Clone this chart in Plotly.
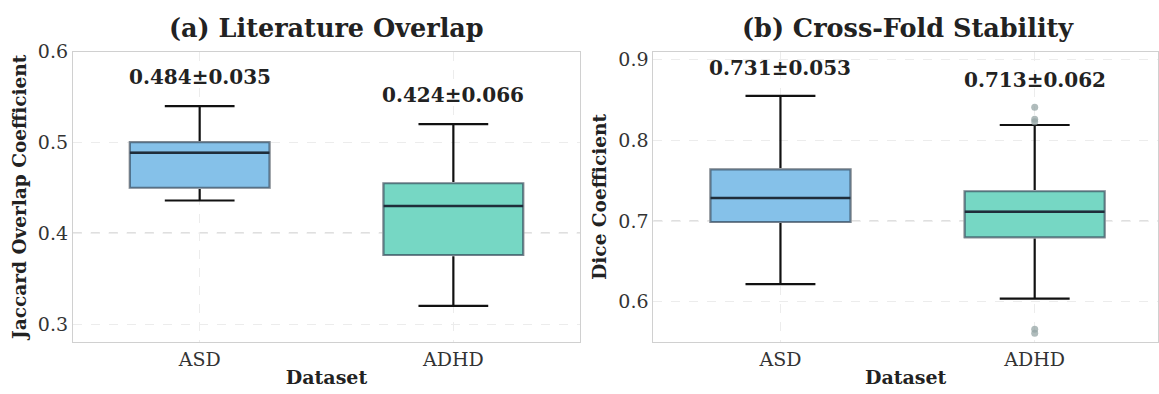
import plotly.graph_objects as go

# ---------------- data ----------------
categories = ["ASD", "ADHD"]

# (a) Literature Overlap – Jaccard
jac_lower = [0.436, 0.320]
jac_q1 = [0.450, 0.376]
jac_median = [0.4885, 0.430]
jac_q3 = [0.500, 0.455]
jac_upper = [0.540, 0.520]
jac_mean = [0.484, 0.424]
jac_std = [0.035, 0.066]
jac_outliers = [[], []]

# (b) Cross-Fold Stability – Dice
dice_lower = [0.622, 0.604]
dice_q1 = [0.699, 0.680]
dice_median = [0.7285, 0.7115]
dice_q3 = [0.764, 0.737]
dice_upper = [0.855, 0.819]
dice_mean = [0.731, 0.713]
dice_std = [0.053, 0.062]
dice_outliers = [[], [0.841, 0.826, 0.823, 0.566, 0.561]]

ref_lines = [0.4, 0.7]

# ---------------- style ----------------
FONT = "Georgia, 'DejaVu Serif', serif"
fill_colors = ["rgba(52,152,219,0.6)", "rgba(26,188,156,0.6)"]
edge_color = "rgba(44,62,80,0.65)"
median_color = "#1f2d3a"
whisker_color = "#111111"
box_w = 0.55

fig = go.Figure()


def add_panel(xa, ya, lower, q1, med, q3, upper, outliers, mean, std):
    for i, cat in enumerate(categories):
        common = dict(x=[cat], xaxis=xa, yaxis=ya, width=box_w, showlegend=False,
                      hoverinfo="skip", boxpoints=False)
        # whiskers + caps (black)
        fig.add_trace(go.Box(q1=[q1[i]], median=[med[i]], q3=[q3[i]],
                             lowerfence=[lower[i]], upperfence=[upper[i]],
                             fillcolor="rgba(0,0,0,0)", whiskerwidth=0.5,
                             line=dict(color=whisker_color, width=2.2), **common))
        # white underlay so whisker outline does not show through
        fig.add_trace(go.Box(q1=[q1[i]], median=[med[i]], q3=[q3[i]],
                             lowerfence=[q1[i]], upperfence=[q3[i]],
                             fillcolor="white", whiskerwidth=0,
                             line=dict(color="white", width=2.4), **common))
        # coloured box with translucent edge
        fig.add_trace(go.Box(q1=[q1[i]], median=[med[i]], q3=[q3[i]],
                             lowerfence=[q1[i]], upperfence=[q3[i]],
                             fillcolor=fill_colors[i], whiskerwidth=0,
                             line=dict(color=edge_color, width=2), **common))
        # median line
        fig.add_trace(go.Box(q1=[med[i]], median=[med[i]], q3=[med[i]],
                             lowerfence=[med[i]], upperfence=[med[i]],
                             fillcolor="rgba(0,0,0,0)", whiskerwidth=0,
                             line=dict(color=median_color, width=2.5), **common))
        if outliers[i]:
            fig.add_trace(go.Scatter(x=[cat] * len(outliers[i]), y=outliers[i],
                                     xaxis=xa, yaxis=ya, mode="markers",
                                     marker=dict(color="rgba(149,165,166,0.75)", size=7),
                                     showlegend=False, hoverinfo="skip"))
        top = max([upper[i]] + outliers[i])
        fig.add_annotation(x=cat, y=top + 0.017, xref=xa, yref=ya,
                           text=f"<b>{mean[i]:.3f}±{std[i]:.3f}</b>",
                           showarrow=False, xanchor="center", yanchor="bottom",
                           font=dict(family=FONT, size=20, color="#222222"))


add_panel("x", "y", jac_lower, jac_q1, jac_median, jac_q3, jac_upper,
          jac_outliers, jac_mean, jac_std)
add_panel("x2", "y2", dice_lower, dice_q1, dice_median, dice_q3, dice_upper,
          dice_outliers, dice_mean, dice_std)

# reference dashed lines
for xr, yr, v in [("x domain", "y", ref_lines[0]), ("x2 domain", "y2", ref_lines[1])]:
    fig.add_shape(type="line", xref=xr, yref=yr, x0=0, x1=1, y0=v, y1=v,
                  line=dict(color="rgba(150,150,150,0.6)", width=1.2, dash="dash"),
                  layer="below")

W, H = 1159, 394
ydom = [1 - 340.7 / H, 1 - 41.7 / H]

axis_common = dict(showline=True, mirror=True, linecolor="#d0d0d0", linewidth=1,
                   showgrid=True, gridcolor="#ececec", griddash="dash", gridwidth=1,
                   zeroline=False, ticks="", color="#333333",
                   tickfont=dict(family=FONT, size=19, color="#333333"))

fig.update_layout(
    width=W, height=H, margin=dict(l=0, r=0, t=0, b=0),
    paper_bgcolor="white", plot_bgcolor="white", boxmode="overlay",
    font=dict(family=FONT, color="#222222"),
    xaxis=dict(domain=[72.9 / W, 580.7 / W], anchor="y", type="category",
               categoryorder="array", categoryarray=categories, range=[-0.5, 1.5],
               title=dict(text="<b>Dataset</b>", font=dict(family=FONT, size=19, color="#222222"),
                          standoff=1),
               **axis_common),
    yaxis=dict(domain=ydom, anchor="x", range=[0.28, 0.6], tickvals=[0.3, 0.4, 0.5, 0.6],
               ticktext=["0.3", "0.4", "0.5", "0.6"],
               title=dict(text="<b>Jaccard Overlap Coefficient</b>",
                          font=dict(family=FONT, size=18.5, color="#222222"), standoff=6),
               **axis_common),
    xaxis2=dict(domain=[653.9 / W, 1.0], anchor="y2", type="category",
                categoryorder="array", categoryarray=categories, range=[-0.5, 1.485],
                title=dict(text="<b>Dataset</b>", font=dict(family=FONT, size=19, color="#222222"),
                           standoff=1),
                **axis_common),
    yaxis2=dict(domain=ydom, anchor="x2", range=[0.55, 0.91], tickvals=[0.6, 0.7, 0.8, 0.9],
                ticktext=["0.6", "0.7", "0.8", "0.9"],
                title=dict(text="<b>Dice Coefficient</b>",
                           font=dict(family=FONT, size=18.5, color="#222222"), standoff=6),
                **axis_common),
)

fig.add_annotation(text="<b>(a) Literature Overlap</b>", xref="paper", yref="paper",
                   x=(72.9 + 580.7) / 2 / W, y=1 - 18 / H, showarrow=False,
                   xanchor="center", yanchor="middle",
                   font=dict(family=FONT, size=25.5, color="#222222"))
fig.add_annotation(text="<b>(b) Cross-Fold Stability</b>", xref="paper", yref="paper",
                   x=(653.9 + 1162.7) / 2 / W, y=1 - 18 / H, showarrow=False,
                   xanchor="center", yanchor="middle",
                   font=dict(family=FONT, size=25.5, color="#222222"))

fig.write_html("out.html")
